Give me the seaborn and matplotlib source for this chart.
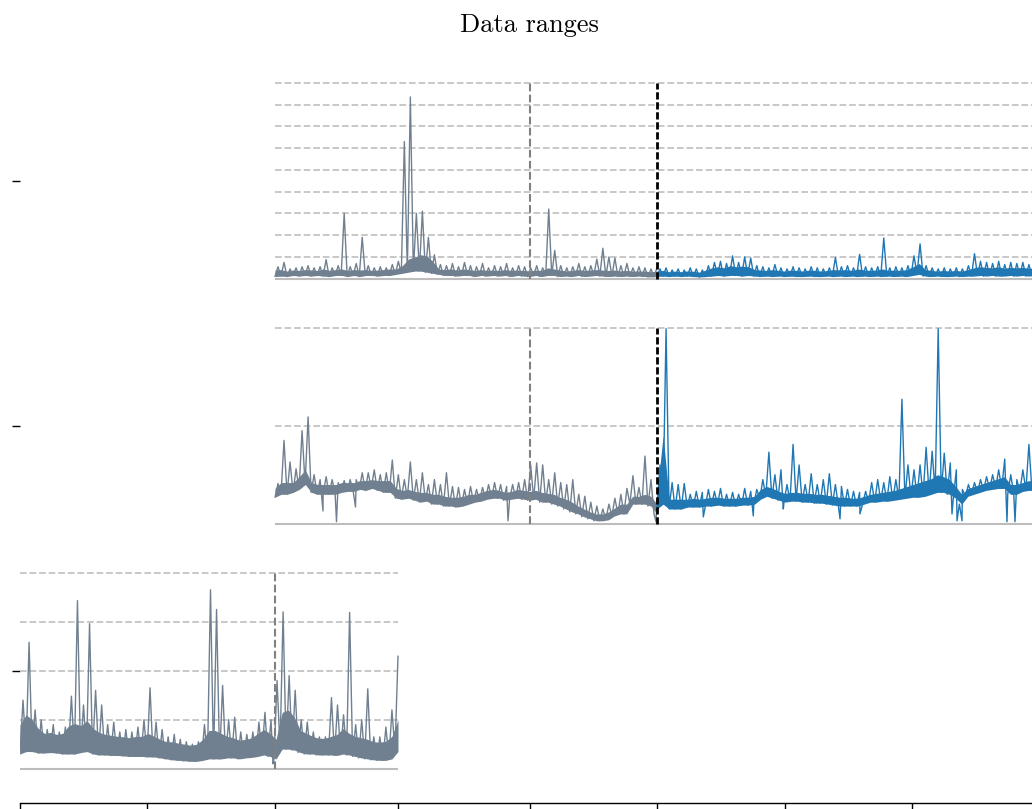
import numpy as np
import matplotlib
matplotlib.use("Agg")
import matplotlib.pyplot as plt
import seaborn as sns

TITLE = "Data ranges"

# time-axis layout (shared x units)
R3_START, R3_SPLIT, R3_END = 20, 275, 398
R12_START, R12_SPLIT, R12_TEST, R12_END = 275, 530, 657, 1041
X_MIN, X_MAX = 20, 1038
XTICKS = [20, 147, 275, 398, 530, 657, 785, 912, 1038]

# row positions on y axis and grid maxima (in each series' own units)
ROW_POS = {"r1": 2, "r2": 1, "r3": 0}
ROW_MAX = {"r1": 9, "r2": 2, "r3": 4}

# ---- values: per time bin, band bottom (LO),
# ---- dense band top (CORE) and highest stroke (HI); plus isolated dips
R1_GRAY_LO = [0.1, 0.12, 0.1, 0.15, 0.12, 0.15, 0.12, 0.15, 0.12, 0.1,
              0.15, 0.15, 0.1, 0.15, 0.1, 0.15, 0.15, 0.12, 0.15, 0.15,
              0.2, 0.25, 0.3, 0.35, 0.35, 0.3, 0.25, 0.2, 0.15, 0.15,
              0.12, 0.15, 0.15, 0.1, 0.15, 0.12, 0.15, 0.12, 0.15, 0.1,
              0.15, 0.12, 0.1, 0.15, 0.1, 0.15, 0.15, 0.1, 0.12, 0.1,
              0.15, 0.1, 0.12, 0.15, 0.12, 0.1, 0.12, 0.1, 0.12, 0.1,
              0.12, 0.1, 0.08, 0.1]
R1_GRAY_CORE = [0.4, 0.42, 0.35, 0.4, 0.38, 0.42, 0.4, 0.38, 0.45, 0.38,
                0.42, 0.45, 0.38, 0.42, 0.4, 0.42, 0.38, 0.4, 0.42, 0.45,
                0.45, 0.6, 0.9, 1.0, 1.1, 1.05, 0.8, 0.45, 0.42, 0.45,
                0.4, 0.45, 0.42, 0.38, 0.42, 0.38, 0.4, 0.38, 0.42, 0.38,
                0.4, 0.38, 0.36, 0.4, 0.38, 0.5, 0.45, 0.4, 0.36, 0.38,
                0.42, 0.38, 0.4, 0.42, 0.4, 0.38, 0.4, 0.36, 0.38, 0.35,
                0.36, 0.35, 0.32, 0.35]
R1_GRAY_HI = [0.55, 0.75, 0.45, 0.5, 0.55, 0.6, 0.5, 0.55, 0.88, 0.5,
              0.6, 3.0, 0.55, 0.7, 1.9, 0.6, 0.5, 0.55, 0.5, 0.65,
              0.8, 6.3, 8.35, 3.0, 3.1, 1.9, 1.1, 0.65, 0.6, 0.7,
              0.55, 0.75, 0.6, 0.55, 0.7, 0.5, 0.6, 0.55, 0.7, 0.5,
              0.6, 0.55, 0.5, 0.6, 0.5, 3.2, 1.3, 0.6, 0.5, 0.55,
              0.7, 0.55, 0.6, 0.9, 1.4, 1.0, 0.95, 0.6, 0.7, 0.5,
              0.55, 0.5, 0.45, 0.5]
R1_GRAY_DIPS_X, R1_GRAY_DIPS_V = [], []

R1_BLUE_LO = [0.1, 0.12, 0.1, 0.12, 0.1, 0.12, 0.1, 0.08, 0.1, 0.12,
              0.15, 0.12, 0.15, 0.15, 0.12, 0.15, 0.12, 0.1, 0.12, 0.1,
              0.12, 0.1, 0.12, 0.1, 0.1, 0.12, 0.1, 0.1, 0.12, 0.1,
              0.12, 0.1, 0.12, 0.1, 0.12, 0.1, 0.12, 0.1, 0.12, 0.1,
              0.12, 0.1, 0.15, 0.2, 0.12, 0.1, 0.12, 0.1, 0.1, 0.12,
              0.1, 0.12, 0.12, 0.15, 0.12, 0.15, 0.12, 0.12, 0.15, 0.12,
              0.15, 0.12, 0.15, 0.12]
R1_BLUE_CORE = [0.35, 0.38, 0.32, 0.35, 0.32, 0.36, 0.34, 0.3, 0.4, 0.5,
                0.55, 0.5, 0.6, 0.55, 0.58, 0.55, 0.42, 0.4, 0.38, 0.42,
                0.38, 0.35, 0.4, 0.38, 0.35, 0.4, 0.38, 0.35, 0.38, 0.42,
                0.4, 0.42, 0.38, 0.45, 0.4, 0.38, 0.4, 0.45, 0.38, 0.4,
                0.38, 0.42, 0.55, 0.7, 0.42, 0.38, 0.35, 0.38, 0.35, 0.38,
                0.35, 0.42, 0.5, 0.55, 0.52, 0.5, 0.55, 0.48, 0.52, 0.5,
                0.52, 0.48, 0.5, 0.45]
R1_BLUE_HI = [0.45, 0.5, 0.4, 0.45, 0.4, 0.5, 0.45, 0.4, 0.6, 0.75,
              0.8, 0.7, 1.05, 0.75, 1.0, 0.95, 0.6, 0.55, 0.5, 0.65,
              0.5, 0.45, 0.55, 0.5, 0.45, 0.55, 0.5, 0.45, 0.5, 0.97,
              0.55, 0.6, 0.5, 1.12, 0.55, 0.5, 0.55, 1.87, 0.5, 0.55,
              0.5, 0.6, 1.05, 1.6, 0.6, 0.5, 0.45, 0.5, 0.45, 0.5,
              0.45, 0.6, 1.15, 0.8, 0.75, 0.7, 0.8, 0.65, 0.75, 0.7,
              0.75, 0.65, 0.7, 0.6]
R1_BLUE_DIPS_X, R1_BLUE_DIPS_V = [], []

R2_GRAY_LO = [0.27, 0.3, 0.3, 0.32, 0.35, 0.4, 0.32, 0.3, 0.3, 0.3,
              0.3, 0.32, 0.33, 0.33, 0.35, 0.34, 0.36, 0.34, 0.32, 0.32,
              0.26, 0.25, 0.26, 0.24, 0.22, 0.23, 0.2, 0.2, 0.18, 0.18,
              0.17, 0.18, 0.2, 0.22, 0.23, 0.25, 0.26, 0.26, 0.24, 0.25,
              0.26, 0.25, 0.24, 0.25, 0.22, 0.22, 0.2, 0.18, 0.15, 0.12,
              0.1, 0.07, 0.05, 0.03, 0.03, 0.04, 0.08, 0.1, 0.1, 0.2,
              0.2, 0.2, 0.18, 0.1]
R2_GRAY_CORE = [0.36, 0.42, 0.42, 0.42, 0.48, 0.55, 0.42, 0.4, 0.4, 0.4,
                0.4, 0.42, 0.42, 0.42, 0.44, 0.44, 0.45, 0.44, 0.44, 0.44,
                0.36, 0.34, 0.35, 0.33, 0.32, 0.32, 0.3, 0.3, 0.28, 0.27,
                0.27, 0.28, 0.3, 0.3, 0.32, 0.34, 0.35, 0.34, 0.32, 0.33,
                0.35, 0.34, 0.33, 0.34, 0.32, 0.31, 0.3, 0.27, 0.25, 0.22,
                0.18, 0.15, 0.12, 0.1, 0.1, 0.12, 0.16, 0.2, 0.2, 0.28,
                0.28, 0.3, 0.28, 0.2]
R2_GRAY_HI = [0.41, 0.85, 0.63, 0.56, 0.95, 1.09, 0.5, 0.45, 0.48, 0.45,
              0.42, 0.44, 0.45, 0.45, 0.52, 0.52, 0.55, 0.5, 0.52, 0.65,
              0.5, 0.45, 0.63, 0.45, 0.52, 0.4, 0.45, 0.4, 0.52, 0.38,
              0.37, 0.35, 0.38, 0.35, 0.37, 0.4, 0.42, 0.4, 0.38, 0.4,
              0.42, 0.45, 0.6, 0.62, 0.6, 0.45, 0.52, 0.42, 0.4, 0.45,
              0.3, 0.28, 0.22, 0.18, 0.15, 0.2, 0.26, 0.3, 0.36, 0.49,
              0.37, 0.69, 0.45, 0.25]
R2_GRAY_DIPS_X = [323, 336.5, 355.5, 508, 656]
R2_GRAY_DIPS_V = [0.13, 0.02, 0.17, 0.03, 0.02]

R2_BLUE_LO = [0.15, 0.2, 0.15, 0.15, 0.15, 0.17, 0.17, 0.17, 0.18, 0.18,
              0.19, 0.18, 0.18, 0.18, 0.19, 0.19, 0.2, 0.25, 0.28, 0.26,
              0.24, 0.22, 0.23, 0.23, 0.22, 0.22, 0.21, 0.21, 0.2, 0.19,
              0.18, 0.18, 0.18, 0.18, 0.2, 0.22, 0.22, 0.23, 0.23, 0.24,
              0.25, 0.26, 0.27, 0.27, 0.28, 0.3, 0.32, 0.32, 0.3, 0.26,
              0.2, 0.28, 0.3, 0.32, 0.34, 0.35, 0.36, 0.36, 0.3, 0.3,
              0.33, 0.34, 0.34, 0.33]
R2_BLUE_CORE = [0.3, 0.9, 0.25, 0.25, 0.25, 0.25, 0.26, 0.25, 0.26, 0.27,
                0.27, 0.26, 0.26, 0.26, 0.27, 0.27, 0.28, 0.35, 0.38, 0.36,
                0.33, 0.31, 0.32, 0.32, 0.31, 0.31, 0.3, 0.3, 0.29, 0.28,
                0.27, 0.27, 0.26, 0.26, 0.28, 0.3, 0.31, 0.32, 0.33, 0.34,
                0.36, 0.38, 0.4, 0.42, 0.44, 0.46, 0.5, 0.48, 0.45, 0.38,
                0.3, 0.36, 0.38, 0.4, 0.42, 0.44, 0.46, 0.48, 0.4, 0.4,
                0.42, 0.44, 0.43, 0.42]
R2_BLUE_HI = [0.6, 1.99, 0.42, 0.4, 0.41, 0.3, 0.33, 0.32, 0.35, 0.33,
              0.36, 0.3, 0.32, 0.3, 0.36, 0.33, 0.35, 0.45, 0.73, 0.5,
              0.55, 0.4, 0.81, 0.6, 0.4, 0.51, 0.4, 0.45, 0.51, 0.4,
              0.38, 0.35, 0.33, 0.32, 0.33, 0.42, 0.45, 0.42, 0.48, 0.45,
              1.27, 0.6, 0.55, 0.6, 0.78, 0.74, 1.99, 0.72, 0.62, 0.55,
              0.35, 0.4, 0.42, 0.45, 0.48, 0.5, 0.55, 0.66, 0.5, 0.45,
              0.55, 0.81, 0.55, 0.5]
R2_BLUE_DIPS_X = [703.3, 753.3, 783.3, 840, 860, 952, 957, 962, 1007, 1015]
R2_BLUE_DIPS_V = [0.07, 0.08, 0.15, 0.05, 0.1, 0.1, 0.03, 0.03, 0.02, 0.02]

R3_LO = [0.3, 0.35, 0.35, 0.32, 0.32, 0.33, 0.32, 0.3, 0.3, 0.3,
         0.33, 0.35, 0.3, 0.28, 0.28, 0.27, 0.27, 0.26, 0.25, 0.25,
         0.25, 0.24, 0.24, 0.22, 0.2, 0.18, 0.17, 0.16, 0.15, 0.15,
         0.17, 0.2, 0.2, 0.2, 0.22, 0.22, 0.2, 0.22, 0.23, 0.25,
         0.28, 0.25, 0.2, 0.4, 0.4, 0.38, 0.33, 0.3, 0.3, 0.28,
         0.28, 0.28, 0.27, 0.3, 0.28, 0.25, 0.22, 0.2, 0.18, 0.17,
         0.17, 0.2, 0.35]
R3_CORE = [0.9, 1.1, 1.0, 0.82, 0.72, 0.74, 0.7, 0.72, 0.88, 0.92,
           0.88, 0.98, 0.82, 0.74, 0.7, 0.68, 0.66, 0.65, 0.63, 0.66,
           0.66, 0.72, 0.66, 0.6, 0.55, 0.55, 0.52, 0.5, 0.48, 0.5,
           0.6, 0.78, 0.78, 0.72, 0.66, 0.63, 0.58, 0.6, 0.63, 0.72,
           0.8, 0.72, 0.6, 1.15, 1.2, 1.05, 0.78, 0.72, 0.66, 0.62,
           0.62, 0.66, 0.7, 0.82, 0.72, 0.66, 0.63, 0.6, 0.55, 0.54,
           0.56, 0.66, 1.0]
R3_HI = [1.4, 2.58, 1.2, 1.0, 0.8, 0.9, 0.75, 0.85, 1.48, 3.43,
         1.3, 2.96, 1.6, 1.3, 0.9, 0.95, 0.75, 0.8, 0.75, 0.85,
         1.0, 1.65, 0.95, 0.8, 0.65, 0.7, 0.6, 0.55, 0.5, 0.55,
         0.9, 3.65, 3.25, 1.7, 1.0, 1.05, 0.75, 0.7, 0.75, 0.95,
         1.15, 1.0, 1.8, 3.2, 1.9, 1.6, 1.0, 0.95, 0.75, 0.65,
         0.65, 1.45, 1.3, 1.1, 3.19, 0.9, 1.0, 1.63, 0.65, 0.65,
         0.85, 1.2, 2.3]
R3_DIPS_X = [273]
R3_DIPS_V = [0.1]

GRAY = "#708090"
BLUE = "#1f77b4"
GRID = "#c4c4c4"

sns.set_theme(style="ticks")
plt.rcParams["font.family"] = ["cmr10", "DejaVu Serif"]
plt.rcParams["axes.formatter.use_mathtext"] = True

W, H = 1032, 809
fig = plt.figure(figsize=(W / 100, H / 100), dpi=100)
ax = fig.add_axes([20 / W, 6 / H, 1018 / W, (803 - 40.6) / H])


def to_y(v, row):
    return ROW_POS[row] - 0.4 + 0.8 * np.asarray(v, dtype=float) / ROW_MAX[row]


def row_frame(row, x0, x1):
    levels = np.arange(1, ROW_MAX[row] + 1)
    ax.hlines(to_y(levels, row), x0, x1, colors=GRID, linestyles="--",
              lw=1.3, zorder=1)
    ax.hlines(to_y(0, row), x0, x1, colors="#bdbdbd", lw=1.5, zorder=1)


def draw_series(lo, core, hi, dips_x, dips_v, x0, x1, row, col):
    n = len(lo)
    # dense band
    xb = np.linspace(x0, x1, n)
    ax.fill_between(xb, to_y(lo, row), to_y(core, row), color=col, lw=0,
                    zorder=2)
    # individual strokes: bottom -> peak per bin, with isolated dips
    vals = np.column_stack([lo, hi]).ravel()
    xs = np.linspace(x0, x1, len(vals))
    xs = np.concatenate([xs, np.asarray(dips_x, dtype=float)])
    vals = np.concatenate([vals, np.asarray(dips_v, dtype=float)])
    order = np.argsort(xs, kind="stable")
    sns.lineplot(x=xs[order], y=to_y(vals[order], row), ax=ax, color=col,
                 lw=1.0, estimator=None, sort=False, legend=False, zorder=2)


row_frame("r1", R12_START, X_MAX)
row_frame("r2", R12_START, X_MAX)
row_frame("r3", R3_START, R3_END)

draw_series(R1_GRAY_LO, R1_GRAY_CORE, R1_GRAY_HI, R1_GRAY_DIPS_X,
            R1_GRAY_DIPS_V, R12_START, R12_TEST, "r1", GRAY)
draw_series(R1_BLUE_LO, R1_BLUE_CORE, R1_BLUE_HI, R1_BLUE_DIPS_X,
            R1_BLUE_DIPS_V, R12_TEST, R12_END, "r1", BLUE)
draw_series(R2_GRAY_LO, R2_GRAY_CORE, R2_GRAY_HI, R2_GRAY_DIPS_X,
            R2_GRAY_DIPS_V, R12_START, R12_TEST, "r2", GRAY)
draw_series(R2_BLUE_LO, R2_BLUE_CORE, R2_BLUE_HI, R2_BLUE_DIPS_X,
            R2_BLUE_DIPS_V, R12_TEST, R12_END, "r2", BLUE)
draw_series(R3_LO, R3_CORE, R3_HI, R3_DIPS_X, R3_DIPS_V,
            R3_START, R3_END, "r3", GRAY)

for row in ("r1", "r2"):
    ax.vlines(R12_SPLIT, to_y(0, row), to_y(ROW_MAX[row], row),
              colors="#808080", linestyles="--", lw=1.5, zorder=3)
    ax.vlines(R12_TEST, to_y(0, row), to_y(ROW_MAX[row], row),
              colors="black", linestyles=(0, (2.6, 1.0)), lw=2.0, zorder=4)
ax.vlines(R3_SPLIT, to_y(0, "r3"), to_y(ROW_MAX["r3"], "r3"),
          colors="#808080", linestyles="--", lw=1.5, zorder=3)

ax.set_xlim(X_MIN, X_MAX)
ax.set_ylim(-0.54, 2.572)
ax.set_yticks([0, 1, 2])
ax.set_yticklabels([])
ax.set_xticks(XTICKS)
ax.set_xticklabels([])
ax.tick_params(axis="both", length=6, width=1.0, color="black")
sns.despine(ax=ax, left=True)
ax.spines["bottom"].set_color("black")
ax.spines["bottom"].set_linewidth(1.0)
ax.set_xlabel("")
ax.set_ylabel("")
ax.set_title(TITLE, fontsize=19, pad=6, color="black")

fig.savefig("out.png", dpi=100)
